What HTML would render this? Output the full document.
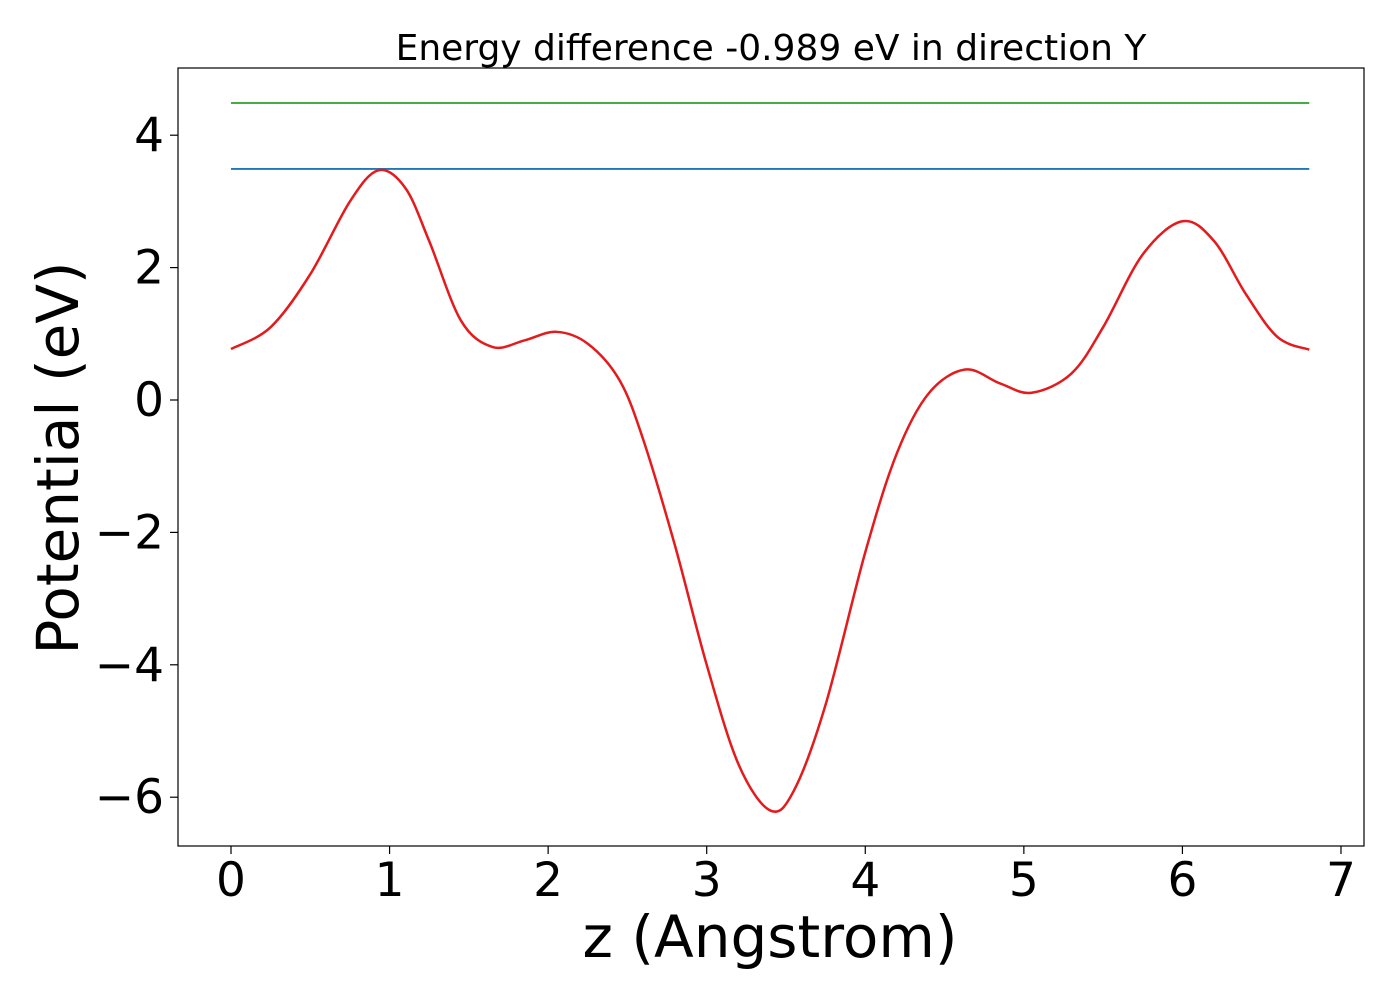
<!DOCTYPE html>
<html><head><meta charset="utf-8"><style>body{margin:0;background:#fff}svg{font-family:"DejaVu Sans","Liberation Sans",sans-serif}</style></head>
<body>
<svg id="c" width="1400" height="1000" xmlns="http://www.w3.org/2000/svg"></svg>
<script>
const zVals=[0,0.25,0.5,0.75,0.93,1.1,1.25,1.45,1.65,1.85,2.05,2.25,2.45,2.6,2.8,3.0,3.2,3.4,3.55,3.75,4.0,4.2,4.4,4.63,4.85,5.05,5.3,5.5,5.75,6.0,6.2,6.4,6.6,6.8];
const potVals=[0.77,1.1,1.9,3.0,3.47,3.2,2.4,1.2,0.8,0.9,1.03,0.85,0.3,-0.6,-2.2,-4.0,-5.5,-6.2,-5.9,-4.6,-2.3,-0.8,0.1,0.46,0.25,0.11,0.4,1.1,2.2,2.7,2.4,1.6,0.95,0.76];
const levelBlue=3.49, levelGreen=4.486;
const xTicks=[0,1,2,3,4,5,6,7];
const yTicks=[-6,-4,-2,0,2,4];
const L=178,R=1364,T=68,B=846;
const X=v=>231+v*158.57, Y=v=>400-v*66.2;
const svg=document.getElementById('c');const NS='http://www.w3.org/2000/svg';
function add(tag,attrs,name,txt){const e=document.createElementNS(NS,tag);for(const k in attrs)e.setAttribute(k,attrs[k]);


if(txt!==undefined)e.textContent=txt;svg.appendChild(e);return e;}
add('rect',{x:L,y:T,width:R-L,height:B-T,fill:'none',stroke:'#000','stroke-width':1.2},'plot-frame');
xTicks.forEach(t=>{add('line',{x1:X(t),x2:X(t),y1:B,y2:B+8,stroke:'#000','stroke-width':1.2},'x-tick');
add('text',{x:X(t),y:B+50,'font-size':47,'text-anchor':'middle'},'x-tick-label',String(t));});
yTicks.forEach(t=>{add('line',{x1:L-8,x2:L,y1:Y(t),y2:Y(t),stroke:'#000','stroke-width':1.2},'y-tick');
add('text',{x:L-14,y:Y(t)+16,'font-size':47,'text-anchor':'end'},'y-tick-label',t<0?'\u2212'+(-t):String(t));});
add('line',{x1:X(0),x2:X(6.8),y1:Y(levelGreen),y2:Y(levelGreen),stroke:'#2ca02c','stroke-width':1.8},'green-level-line');
add('line',{x1:X(0),x2:X(6.8),y1:Y(levelBlue),y2:Y(levelBlue),stroke:'#1f77b4','stroke-width':1.8},'blue-level-line');
const P=zVals.map((z,i)=>[X(z),Y(potVals[i])]);
let d='M'+P[0][0]+','+P[0][1];
for(let i=0;i<P.length-1;i++){const p0=P[Math.max(0,i-1)],p1=P[i],p2=P[i+1],p3=P[Math.min(P.length-1,i+2)];
const c1=[p1[0]+(p2[0]-p0[0])/6,p1[1]+(p2[1]-p0[1])/6],c2=[p2[0]-(p3[0]-p1[0])/6,p2[1]-(p3[1]-p1[1])/6];
d+=` C${c1[0]},${c1[1]} ${c2[0]},${c2[1]} ${p2[0]},${p2[1]}`;}
add('path',{d:d,fill:'none',stroke:'#e41a1c','stroke-width':2.5},'potential-curve');
add('text',{x:771,y:60,'font-size':36,'text-anchor':'middle'},'chart-title','Energy difference -0.989 eV in direction Y');
add('text',{x:770,y:957,'font-size':58,'text-anchor':'middle'},'x-axis-title','z (Angstrom)');
add('text',{x:0,y:0,'font-size':58,'text-anchor':'middle',transform:'translate(78,458) rotate(-90)'},'y-axis-title','Potential (eV)');
</script>
</body></html>
